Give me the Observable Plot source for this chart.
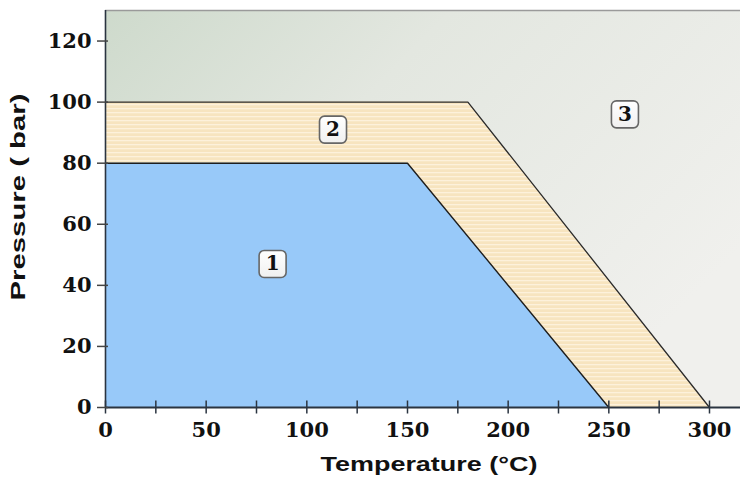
<!DOCTYPE html>
<html>
<head>
<meta charset="utf-8">
<script src="https://cdn.jsdelivr.net/npm/d3@7"></script>
<script src="https://cdn.jsdelivr.net/npm/@observablehq/plot@0.6"></script>
<style>
  html, body { margin: 0; padding: 0; background: #ffffff; }
</style>
</head>
<body>
<div id="chart"></div>
<script>
// ---- data ----
const xTickValues = [0, 50, 100, 150, 200, 250, 300];
const xMinorTicks = [25, 75, 125, 175, 225, 275];
const yTickValues = [0, 20, 40, 60, 80, 100, 120];
const xDomainMax = 315.4;
const yDomainMax = 130;
// region 1 (blue)
const region1 = [
  {t: 0, p: 80},
  {t: 150, p: 80},
  {t: 250, p: 0}
];
// region 2 (beige band)
const region2 = [
  {t: 0, p: 100},
  {t: 180, p: 100},
  {t: 300, p: 0}
];
const regionLabels = [
  {t: 83, p: 47, label: "1"},
  {t: 113, p: 91, label: "2"},
  {t: 258, p: 96, label: "3"}
];
const xTitle = "Temperature (°C)";
const yTitle = "Pressure ( bar)";

// rounded square symbol for boxed labels
const roundSquare = {
  draw(ctx, size) {
    const h = Math.sqrt(size / Math.PI);
    const r = 5;
    ctx.moveTo(-h + r, -h);
    ctx.lineTo(h - r, -h);
    ctx.arcTo(h, -h, h, -h + r, r);
    ctx.lineTo(h, h - r);
    ctx.arcTo(h, h, h - r, h, r);
    ctx.lineTo(-h + r, h);
    ctx.arcTo(-h, h, -h, h - r, r);
    ctx.lineTo(-h, -h + r);
    ctx.arcTo(-h, -h, -h + r, -h, r);
    ctx.closePath();
  }
};

const tickFont = {fontFamily: "DejaVu Serif", fontWeight: "bold", fontSize: 21, fill: "#111"};

const svg = Plot.plot({
  width: 740,
  height: 486,
  marginTop: 10,
  marginLeft: 105,
  marginRight: 0,
  marginBottom: 79,
  style: {color: "#1e1e1e", background: "#ffffff", overflow: "visible"},
  x: {domain: [0, xDomainMax]},
  y: {domain: [0, yDomainMax]},
  marks: [
    Plot.frame({fill: "url(#bg)", stroke: null}),
    Plot.areaY(region2, {x: "t", y: "p", fill: "url(#hatch)"}),
    Plot.line(region2, {x: "t", y: "p", stroke: "#2a2a2a", strokeWidth: 1.3}),
    Plot.areaY(region1, {x: "t", y: "p", fill: "#98c9f9"}),
    Plot.line(region1, {x: "t", y: "p", stroke: "#1e1e1e", strokeWidth: 1.4}),
    Plot.ruleY([yDomainMax], {stroke: "#9a9a9a", strokeWidth: 1.5}),
    Plot.ruleX([0], {stroke: "#2a3440", strokeWidth: 1.6}),
    Plot.ruleY([0], {stroke: "#2a3440", strokeWidth: 1.8}),
    Plot.axisX({ticks: [...xTickValues, ...xMinorTicks], tickSize: 13, dy: -6.5, tickFormat: () => "", label: null, stroke: "#2a3440", strokeWidth: 1.5}),
    Plot.axisX({ticks: xTickValues, tickSize: 0, tickPadding: 15, label: null, ...tickFont}),
    Plot.axisY({ticks: yTickValues, tickSize: 11, dx: 3, tickFormat: () => "", label: null, stroke: "#444", strokeWidth: 1.5}),
    Plot.axisY({ticks: yTickValues, tickSize: 0, tickPadding: 14, label: null, ...tickFont}),
    Plot.dot(regionLabels, {x: "t", y: "p", symbol: roundSquare, r: 13.5, fill: "url(#boxgrad)", stroke: "#666", strokeWidth: 1.6}),
    Plot.text(regionLabels, {x: "t", y: "p", text: "label", fontFamily: "DejaVu Serif", fontWeight: "bold", fontSize: 20, fill: "#111"}),
    Plot.text([xTitle], {frameAnchor: "bottom", textAnchor: "middle", dx: 6, dy: 63, fontFamily: "Liberation Sans", fontWeight: "bold", fontSize: 20, fill: "#111"}),
    Plot.text([yTitle], {frameAnchor: "left", textAnchor: "middle", dx: -87, dy: -12, rotate: -90, fontFamily: "Liberation Sans", fontWeight: "bold", fontSize: 20, fill: "#111"})
  ]
});

const defs = document.createElementNS("http://www.w3.org/2000/svg", "defs");
defs.innerHTML = `
  <linearGradient id="bg" x1="0" y1="0" x2="1" y2="0.6">
    <stop offset="0" stop-color="#cedacc"/>
    <stop offset="0.4" stop-color="#e3e7e0"/>
    <stop offset="1" stop-color="#f0f0ed"/>
  </linearGradient>
  <linearGradient id="boxgrad" x1="0" y1="0" x2="0" y2="1">
    <stop offset="0" stop-color="#ffffff"/>
    <stop offset="1" stop-color="#f0f0f0"/>
  </linearGradient>
  <pattern id="hatch" width="8" height="4" patternUnits="userSpaceOnUse">
    <rect width="8" height="4" fill="#f7e4bf"/>
    <rect y="0" width="8" height="1.3" fill="#fdf1db"/>
  </pattern>`;
svg.insertBefore(defs, svg.firstChild);

document.getElementById("chart").appendChild(svg);

// stretch axis titles to match the wide lettering of the reference
svg.querySelectorAll("text").forEach(t => {
  if (t.textContent === xTitle) { t.setAttribute("textLength", 217); t.setAttribute("lengthAdjust", "spacingAndGlyphs"); }
  if (t.textContent === yTitle) { t.setAttribute("textLength", 207); t.setAttribute("lengthAdjust", "spacingAndGlyphs"); }
});
</script>
</body>
</html>
